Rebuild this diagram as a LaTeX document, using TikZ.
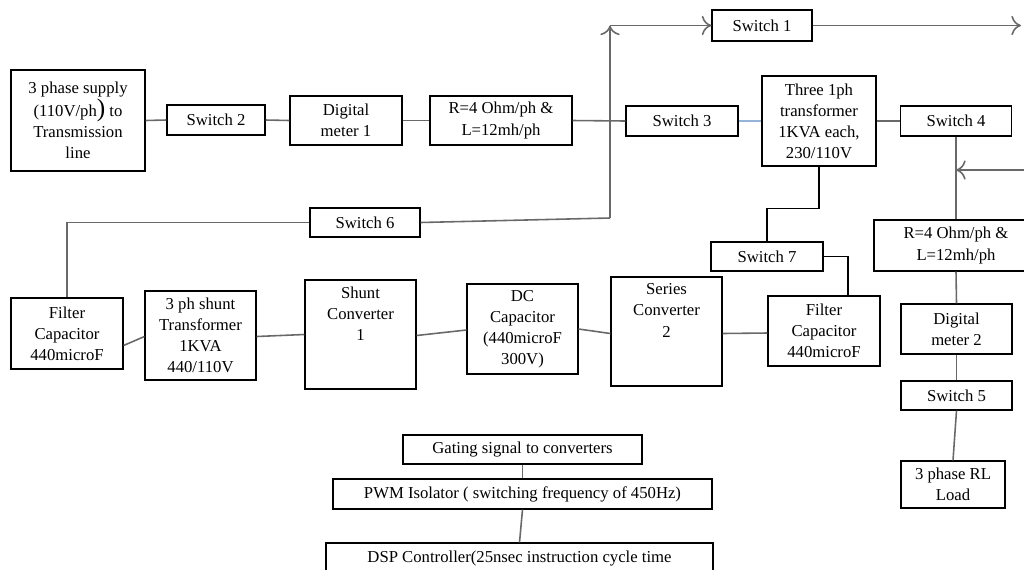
\documentclass[tikz,border=0pt]{standalone}
\usepackage{fontspec}
\setmainfont{Liberation Serif}
\usetikzlibrary{calc,arrows.meta}
\definecolor{wiregray}{RGB}{105,105,105}
\definecolor{wireblue}{RGB}{150,180,215}
\tikzset{
  blk/.style 2 args={draw, line width=0.65pt, minimum width=#1*0.02cm, minimum height=#2*0.02cm, inner sep=1pt, align=center},
  wire/.style={draw=wiregray, line width=0.9pt},
  tip/.style={-{To[length=5.5pt,width=11pt]}},
}
\begin{document}
\begin{tikzpicture}[x=0.02cm, y=-0.02cm, font=\fontsize{9.5pt}{12pt}\selectfont]
		\clip (0,0) rectangle (1024,569);
		%%%%% top row %%%%%
		\node[blk={134}{101}] (supply) at (78,120.5) {3 phase supply\\(110V/ph{\Large)} to\\Transmission\\line};
		\node[blk={98}{30}] (sw2) at (216,120) {Switch 2};
		\node[blk={112}{49}] (dm1) at (346,120.5) {Digital\\meter 1};
		\node[blk={142}{49}] (rl1) at (501,120.5) {R=4 Ohm/ph \&\\L=12mh/ph};
		\node[blk={112}{30}] (sw3) at (682,121) {Switch 3};
		\node[blk={114}{90}] (xfmr) at (819,121) {Three 1ph\\transformer\\1KVA each,\\230/110V};
		\node[blk={111}{30}] (sw4) at (956,121) {Switch 4};
		\node[blk={100}{31}] (sw1) at (762,25.5) {Switch 1};
		\node[blk={110}{29}] (sw6) at (365,222.5) {Switch 6};
		\node[blk={112}{29}] (sw7) at (767,256.5) {Switch 7};
		
		%%%%% converter row %%%%%
		\node[blk={112}{71}] (fc1) at (67,333.5) {Filter\\Capacitor\\440microF};
		\node[blk={111}{89}] (shxf) at (200.5,335.5) {3 ph shunt\\Transformer\\1KVA\\440/110V};
		\node[blk={111}{109}] (shc) at (360.5,334.5) {};
		\node[anchor=north, align=center, inner sep=4pt] (shct) at (shc.north) {Shunt\\Converter\\1};
		\node[blk={111}{90}] (dcc) at (522.5,329) {DC\\Capacitor\\(440microF\\300V)};
		\node[blk={111}{109}] (sec) at (666.5,331.5) {};
		\node[anchor=north, align=center, inner sep=4pt] (sect) at (sec.north) {Series\\Converter\\2};
		\node[blk={112}{70}] (fc2) at (824,331) {Filter\\Capacitor\\440microF};
		
		%%%%% load side %%%%%
		\node[blk={164}{51}] (rl2) at (956,245.5) {R=4 Ohm/ph \&\\L=12mh/ph};
		\node[blk={111}{50}] (dm2) at (956.5,329) {Digital\\meter 2};
		\node[blk={111}{29}] (sw5) at (956.5,395.5) {Switch 5};
		\node[blk={104}{47}] (load) at (953,484.5) {3 phase RL\\Load};
		
		%%%%% control %%%%%
		\node[blk={239}{29}] (gate) at (522.5,449.5) {Gating signal to converters};
		\node[blk={379}{30}] (pwm) at (522.5,494) {PWM Isolator ( switching frequency of 450Hz)};
		\node[blk={387}{30}] (dsp) at (519.5,558) {DSP Controller(25nsec instruction cycle time};
		
		%%%%% connections %%%%%
		\draw[wire] (supply.east) -- (sw2.west);
		\draw[wire] (sw2.east) -- (dm1.west);
		\draw[wire] (dm1.east) -- (rl1.west);
		\draw[wire] (rl1.east) -- (sw3.west);
		\draw[draw=wireblue, line width=0.9pt] (sw3.east) -- (xfmr.west);
		\draw[wire] (xfmr.east) -- (sw4.west);
		
		\coordinate (bj) at (610,218);
		\coordinate (btop) at (610,25.5);
		\coordinate (eout) at (1021,25.5);
		\draw[wire] (fc1.north) |- (sw6.west);
		\draw[wire] (sw6.east) -- (bj);
		\draw[wire,tip] (bj) -- (btop);
		\draw[wire,tip] (btop) -- (sw1.west);
		\draw[wire,tip] (sw1.east) -- (eout);
		
		\draw[line width=0.9pt] (xfmr.south) -- ++(0,42) -| (sw7.north);
		\coordinate (c7) at (848,256.5);
		\draw[line width=0.9pt] (sw7.east) -- (c7) -- (c7 |- fc2.north);
		
		\draw[wire] ($(fc1.east)+(0,12)$) -- ($(shxf.west)+(0,1)$);
		\draw[wire] ($(shxf.east)+(0,1)$) -- (shc.west);
		\draw[wire] ($(shc.east)+(0,1)$) -- ($(dcc.west)+(0,1)$);
		\draw[wire] (dcc.east) -- ($(sec.west)+(0,2)$);
		\draw[wire] ($(sec.east)+(0,2)$) -- ($(fc2.west)+(0,2)$);
		
		\coordinate (ein) at (1024,170);
		\draw[wire] (sw4.south) -- (sw4.south |- rl2.north);
		\draw[wire,tip] (ein) -- (sw4.south |- ein);
		\draw[wire] (rl2.south) -- (dm2.north);
		\draw[wire] (dm2.south) -- (sw5.north);
		\draw[wire] (sw5.south) -- (load.north);
		
		\draw[wire] (gate.south) -- (pwm.north);
		\draw[wire] (pwm.south) -- (dsp.north);
\end{tikzpicture}
\end{document}
